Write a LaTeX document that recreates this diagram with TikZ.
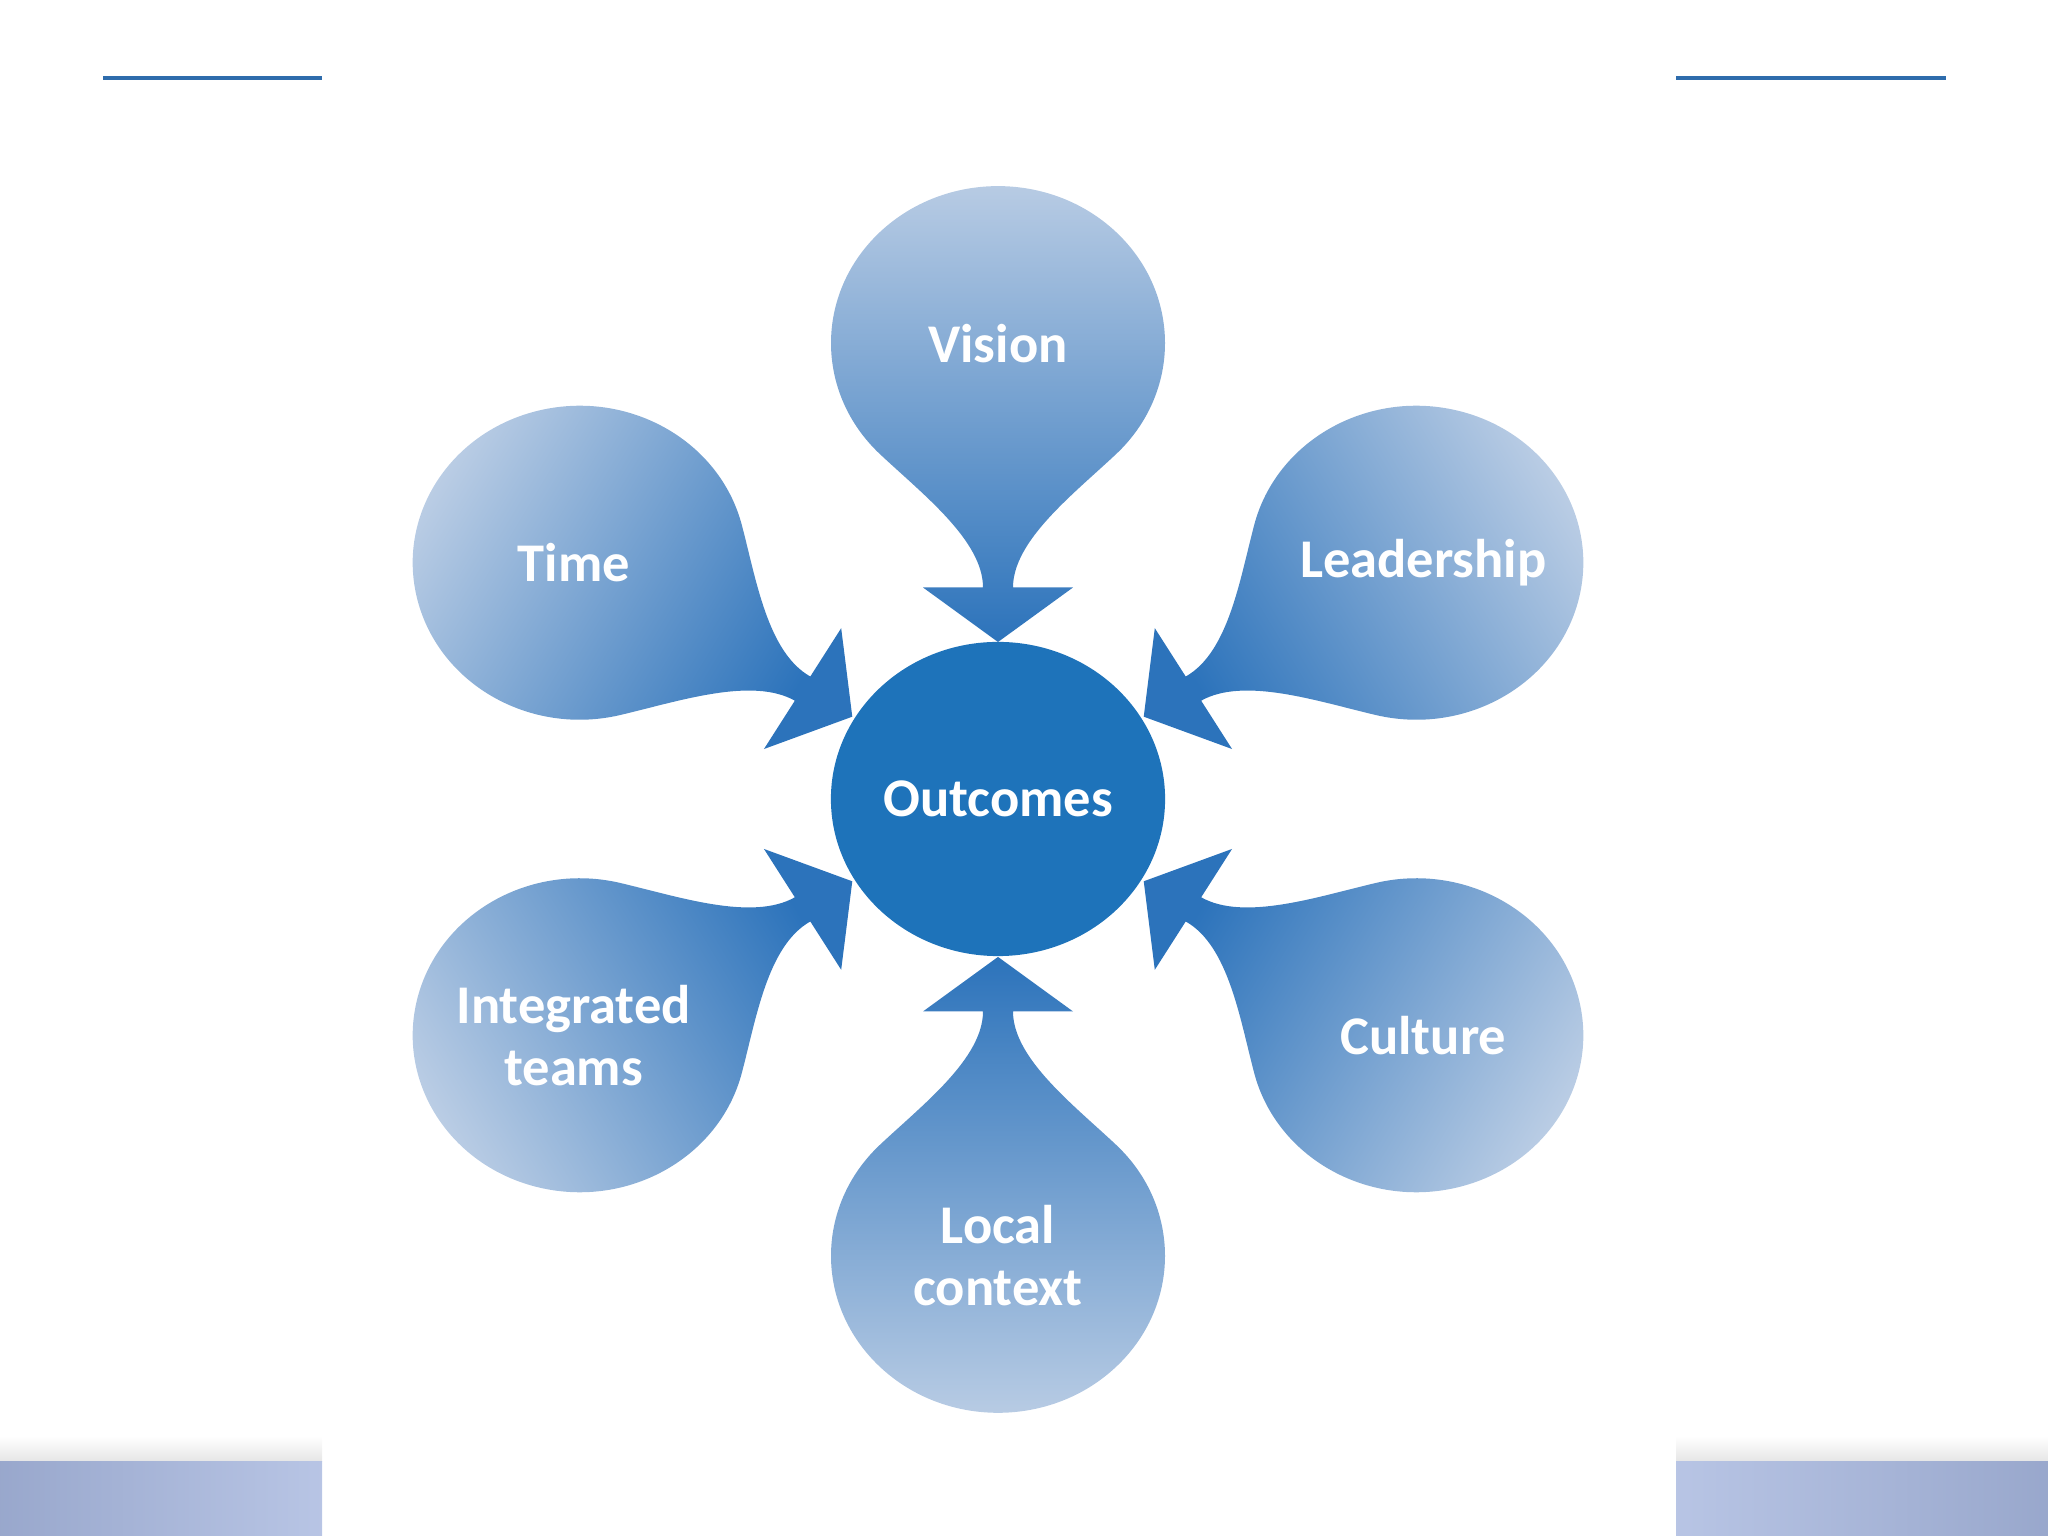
\documentclass[tikz,border=0pt]{standalone}
\usepackage{fontspec}
\setmainfont{Carlito}
\usepackage{xcolor}
\usepackage{tikz}
\usetikzlibrary{shapes.geometric}

\definecolor{azulcentro}{RGB}{30,115,186}
\definecolor{azulclaro}{RGB}{188,206,229}
\definecolor{azuloscuro}{RGB}{44,115,187}
\definecolor{azullinea}{RGB}{46,108,172}
\definecolor{lavanda}{RGB}{166,182,222}

\begin{document}
\begin{tikzpicture}[
			x=0.01cm, y=0.01cm,
			centro/.style={ellipse, minimum width=3.34cm, minimum height=3.14cm, inner sep=0pt, fill=azulcentro, text=white, font=\bfseries\fontsize{15.5}{17.7}\selectfont},
			etiqueta/.style={align=center, text=white, font=\bfseries\fontsize{15.5}{17.7}\selectfont},
			linea/.style={azullinea, line width=0.9pt},
			barra/.style={left color=lavanda!92!black, right color=lavanda!80!white},
			sombra/.style={top color=white, bottom color=black!10},
			petalo/.pic={
				\pgfmathsetmacro\angsombra{#1+90}
				\shade[rotate=#1, top color=azulclaro, bottom color=azuloscuro, shading angle=\angsombra]
				(-45:167) .. controls +(45:60) and +(-50,0) .. (260,-15) -- (260,-75) -- (318,0) -- (260,75) -- (260,15)
				.. controls +(-50,0) and +(-45:60) .. (45:167) arc[start angle=45, end angle=315, radius=167] -- cycle;
			}
			]
			
			\useasboundingbox (0,0) rectangle (2048,1536);
			
			% Lineas superiores
			\draw [linea] (103,1458) -- (322,1458);
			\draw [linea] (1676,1458) -- (1946,1458);
			
			% Barras inferiores
			\shade [sombra] (0,74) rectangle (322,100);
			\shade [sombra] (1676,74) rectangle (2048,100);
			\shade [barra] (0,0) rectangle (322,74);
			\shade [barra, left color=lavanda!80!white, right color=lavanda!92!black] (1676,0) rectangle (2048,74);
			
			\begin{scope}[shift={(998,737)}, yscale=0.94]
				% Petalos
				\pic [transform shape] at (90:485) {petalo=-90};
				\pic [transform shape] at (31:488) {petalo=-149};
				\pic [transform shape] at (-31:488) {petalo=149};
				\pic [transform shape] at (-90:486) {petalo=90};
				\pic [transform shape] at (211:488) {petalo=31};
				\pic [transform shape] at (149:488) {petalo=-31};
				
				% Centro
				\node (outcomes) [centro] at (0,0) {Outcomes};
				
				% Etiquetas
				\node (vision) [etiqueta] at (90:485) {Vision};
				\node (leadership) [etiqueta, xshift=0.07cm] at (31:488) {Leadership};
				\node (culture) [etiqueta, xshift=0.07cm] at (-31:488) {Culture};
				\node (local) [etiqueta] at (-90:486) {Local\\context};
				\node (teams) [etiqueta, xshift=-0.06cm] at (211:488) {Integrated\\teams};
				\node (time) [etiqueta, xshift=-0.06cm] at (149:488) {Time};
			\end{scope}
			
		\end{tikzpicture}
\end{document}
